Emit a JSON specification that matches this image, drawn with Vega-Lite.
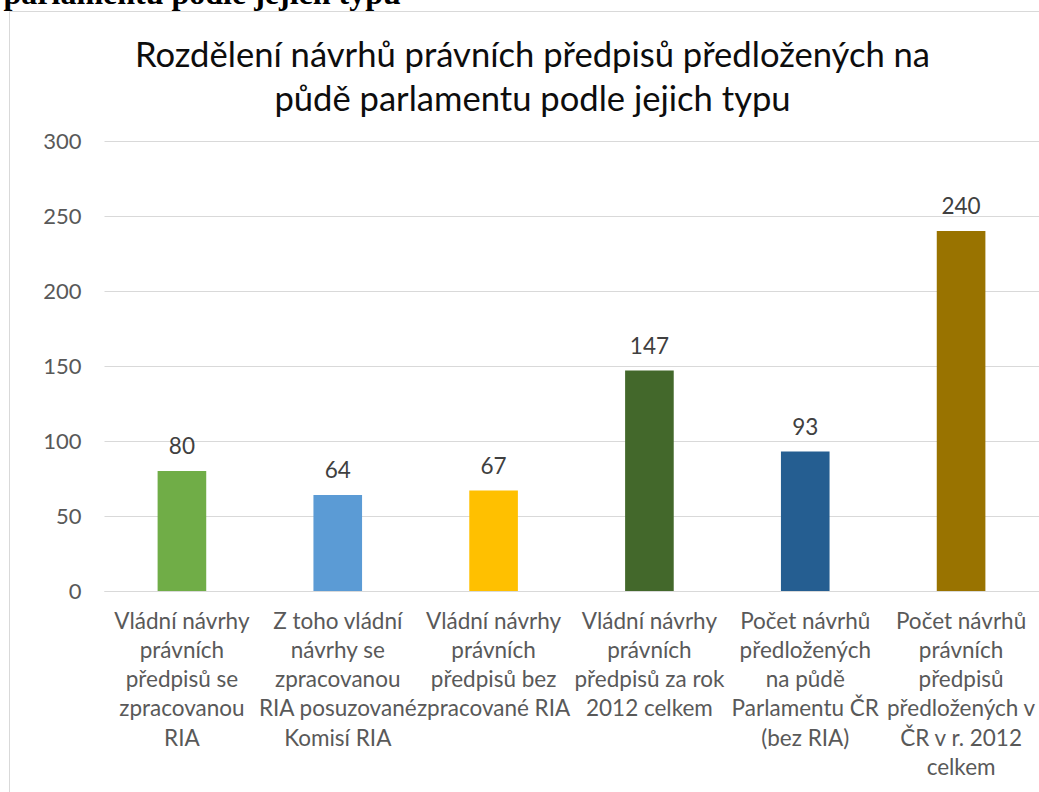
{
  "$schema": "https://vega.github.io/schema/vega-lite/v6.json",
  "width": 935,
  "height": 450,
  "autosize": {"type": "none"},
  "padding": {"left": 104, "top": 141, "right": 0, "bottom": 201},
  "background": "white",
  "config": {"view": {"stroke": null}},
  "data": {
    "values": [
      {"k": "Vládní návrhy|právních|předpisů se|zpracovanou|RIA", "v": 80},
      {"k": "Z toho vládní|návrhy se|zpracovanou|RIA posuzované|Komisí RIA", "v": 64},
      {"k": "Vládní návrhy|právních|předpisů bez|zpracované RIA", "v": 67},
      {"k": "Vládní návrhy|právních|předpisů za rok|2012 celkem", "v": 147},
      {"k": "Počet návrhů|předložených|na půdě|Parlamentu ČR|(bez RIA)", "v": 93},
      {"k": "Počet návrhů|právních|předpisů|předložených v|ČR v r. 2012|celkem", "v": 240}
    ]
  },
  "encoding": {
    "x": {
      "field": "k",
      "type": "nominal",
      "sort": null,
      "scale": {"paddingInner": 0.688, "paddingOuter": 0.344},
      "axis": {
        "labelExpr": "split(datum.label, '|')",
        "labelAngle": 0,
        "labelAlign": "center",
        "labelBaseline": "alphabetic",
        "labelPadding": 37,
        "labelLineHeight": 29.25,
        "labelFont": "Lato",
        "labelFontSize": 22.5,
        "labelColor": "#595959",
        "labelLimit": 0,
        "labelOverlap": false,
        "ticks": false,
        "domain": true,
        "domainColor": "#D9D9D9",
        "domainWidth": 1,
        "grid": false,
        "title": "parlamentu podle jejich typu",
        "titleFont": "Liberation Serif",
        "titleFontWeight": "bold",
        "titleFontSize": 32,
        "titleColor": "#000000",
        "titleAngle": 0,
        "titleAlign": "left",
        "titleBaseline": "alphabetic",
        "titleX": -101,
        "titleY": -588,
        "titleLimit": 0
      }
    },
    "y": {
      "field": "v",
      "type": "quantitative",
      "scale": {"domain": [0, 300]},
      "axis": {
        "values": [0, 50, 100, 150, 200, 250, 300],
        "grid": true,
        "gridColor": "#D9D9D9",
        "gridWidth": 1,
        "domain": false,
        "ticks": false,
        "labelPadding": 23,
        "labelFont": "Lato",
        "labelFontSize": 22,
        "labelColor": "#595959",
        "title": ["Rozdělení návrhů právních předpisů předložených na", "půdě parlamentu podle jejich typu"],
        "titleFont": "Lato",
        "titleFontWeight": "normal",
        "titleFontSize": 34.6,
        "titleColor": "#0D0D0D",
        "titleAngle": 0,
        "titleAlign": "center",
        "titleBaseline": "alphabetic",
        "titleLineHeight": 44,
        "titleX": 428,
        "titleY": -75,
        "titleLimit": 0
      }
    }
  },
  "layer": [
    {
      "mark": {"type": "bar"},
      "encoding": {
        "color": {
          "field": "k",
          "type": "nominal",
          "scale": {
            "domain": [
              "Vládní návrhy|právních|předpisů se|zpracovanou|RIA",
              "Z toho vládní|návrhy se|zpracovanou|RIA posuzované|Komisí RIA",
              "Vládní návrhy|právních|předpisů bez|zpracované RIA",
              "Vládní návrhy|právních|předpisů za rok|2012 celkem",
              "Počet návrhů|předložených|na půdě|Parlamentu ČR|(bez RIA)",
              "Počet návrhů|právních|předpisů|předložených v|ČR v r. 2012|celkem"
            ],
            "range": ["#70AD47", "#5B9BD5", "#FFC000", "#43682B", "#255E91", "#997300"]
          },
          "legend": {
            "orient": "none",
            "legendX": -95,
            "legendY": -130,
            "strokeColor": "#D9D9D9",
            "padding": 540,
            "title": null,
            "symbolSize": 0,
            "symbolStrokeWidth": 0,
            "symbolOpacity": 0,
            "labelExpr": "''",
            "labelFontSize": 1,
            "rowPadding": 0
          }
        }
      }
    },
    {
      "mark": {
        "type": "text",
        "baseline": "alphabetic",
        "dy": -17,
        "font": "Lato",
        "fontSize": 22.5,
        "color": "#404040"
      },
      "encoding": {
        "text": {"field": "v", "type": "quantitative"}
      }
    }
  ]
}
